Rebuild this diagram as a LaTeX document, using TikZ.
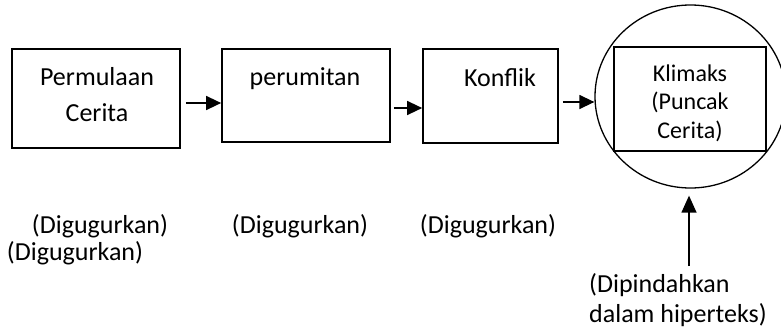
\documentclass[tikz,border=0pt]{standalone}
\usepackage{fontspec}
\setmainfont{Carlito}
\usetikzlibrary{arrows.meta,shapes.geometric}
% multi-line text whose reference point is the baseline of its first line
\newcommand\stk[2][c]{\begin{tabular}[t]{@{}#1@{}}#2\end{tabular}}
\tikzset{
  stagebox/.style={draw, line width=1.7pt, inner sep=0pt},
  lbl/.style={inner sep=0pt, anchor=base, font=\fontsize{26}{36}\selectfont},
  lblsmall/.style={inner sep=0pt, anchor=base, font=\fontsize{24}{28.5}\selectfont},
  arr/.style={line width=1.4pt, -{Triangle[length=15pt,width=14pt]}},
}
\begin{document}
\begin{tikzpicture}[x=1pt,y=-1pt]
\useasboundingbox (0,0) rectangle (781,335);

% stages of the story
\node[stagebox, minimum width=168pt, minimum height=99pt] (b1) at (96,98.5) {};
\node[stagebox, minimum width=168pt, minimum height=93pt] (b2) at (306,95.5) {};
\node[stagebox, minimum width=135pt, minimum height=94pt] (b3) at (490.5,96) {};
\node[draw, ellipse, line width=1.3pt, inner sep=0pt,
      minimum width=191pt, minimum height=183pt] (circ) at (690.5,96.5) {};
\node[stagebox, line width=1.9pt, minimum width=152pt, minimum height=104pt] (b4) at (690,99) {};

\node[lbl] (t1) at (97,85) {\stk{Permulaan\\Cerita}};
\node[lbl] (t2) at (305,85) {perumitan};
\node[lbl] (t3) at (500,86) {Konflik};
\node[lblsmall] (t4) at (690,81) {\stk{Klimaks\\(Puncak\\Cerita)}};

% flow between the stages
\draw[arr, shorten <=5pt] ([yshift=-4.5pt]b1.east) -- ([yshift=-4.5pt]b1.east -| b2.west);
\draw[arr, shorten <=3pt] ([yshift=-12.5pt]b2.east) -- ([yshift=-12.5pt]b2.east -| b3.west);
\draw[arr, shorten <=4pt] ([yshift=-6pt]b3.east) -- ([yshift=-6pt]b3.east -| circ.west);

% notes below the stages
\node[lbl] (d1) at (100,233) {(Digugurkan)};
\node[lbl] (d2) at (75,260) {(Digugurkan)};
\node[lbl] (d3) at (300,233) {(Digugurkan)};
\node[lbl] (d4) at (488,233) {(Digugurkan)};

\node[lbl, anchor=base west, font=\fontsize{26}{30}\selectfont] (hyp) at (589,292)
  {\stk[l]{(Dipindahkan\\dalam hiperteks)}};
\coordinate (src) at (689,266);
\draw[arr, -{Triangle[length=17pt,width=15pt]}] (src) -- ([yshift=-7pt]circ.south -| src);
\end{tikzpicture}
\end{document}
